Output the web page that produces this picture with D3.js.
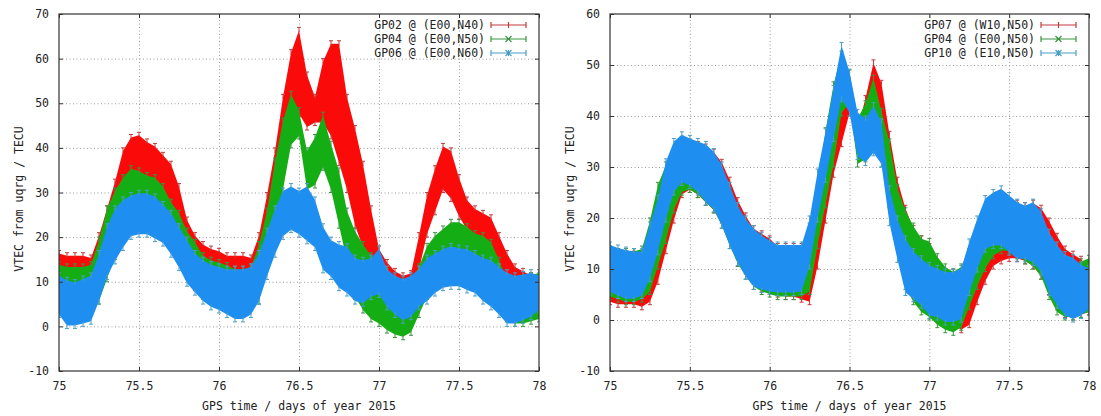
<!DOCTYPE html>
<html>
<head>
<meta charset="utf-8">
<title>VTEC from uqrg</title>
<style>
    body { margin: 0; background: #fff; }
    svg { display: block; }
    text { font-family: "DejaVu Sans Mono", "Liberation Mono", monospace; font-size: 11.5px; fill: #222; }
    .grid line { stroke: #9c9c9c; stroke-width: 1; stroke-dasharray: 1,2.5; }
    .frame { fill: none; stroke: #333; stroke-width: 1.2; }
</style>
</head>
<body>
<svg width="1101" height="416"></svg>
<script src="https://d3js.org/d3.v7.min.js"></script>
<script>
// GPS time, days of year 2015
var days = [
    75.00, 75.05, 75.10, 75.15, 75.20, 75.25, 75.30, 75.35, 75.40, 75.45,
    75.50, 75.55, 75.60, 75.65, 75.70, 75.75, 75.80, 75.85, 75.90, 75.95,
    76.00, 76.05, 76.10, 76.15, 76.20, 76.25, 76.30, 76.35, 76.40, 76.45,
    76.50, 76.55, 76.60, 76.65, 76.70, 76.75, 76.80, 76.85, 76.90, 76.95,
    77.00, 77.05, 77.10, 77.15, 77.20, 77.25, 77.30, 77.35, 77.40, 77.45,
    77.50, 77.55, 77.60, 77.65, 77.70, 77.75, 77.80, 77.85, 77.90, 77.95,
    78.00
];

// upper / lower ends of the error bars, TECU
var gp02Hi = [
    17, 16.5, 16.5, 16.5, 16, 21, 27, 33, 40, 43,
    43.5, 42, 41, 39, 37, 32, 24.5, 21, 19, 18,
    17.5, 16.5, 16.5, 16.5, 16, 21, 30, 40, 52, 62,
    67, 57, 52, 60, 64, 64, 52, 45, 37, 27,
    18, 15, 13, 12, 12.5, 21, 30, 36, 41, 40,
    34, 29, 27, 26, 25, 21, 17, 14, 13, 12,
    11
];
var gp02Lo = [
    7, 7, 7, 7, 7, 10, 16, 21, 26, 29,
    30, 29, 28, 26, 23, 19, 14, 11, 9, 8,
    7.5, 7, 7, 7, 7, 9, 18, 28, 38, 46,
    47, 44, 45, 45, 42, 36, 30, 22, 17, 12,
    9, 7, 5, 4, 5, 12, 20, 25, 30, 28,
    24, 21, 19, 17, 15, 11, 8, 5, 4, 3,
    2
];
var gp04Hi = [
    14.5, 14, 14, 14, 14.5, 20, 27, 31, 34, 36,
    35.5, 34.5, 34, 32, 28.5, 26, 22, 19.5, 16.5, 15.5,
    15, 14.3, 13.5, 13.5, 14, 19, 26.5, 37.7, 46.7, 52.7,
    49, 40, 43, 48, 41.5, 35.5, 26.5, 22, 19, 16.5,
    16, 13, 11, 10, 11, 14, 18.6, 21, 22.5, 24,
    24, 23, 21.5, 21, 19.5, 15.5, 11, 9.6, 11, 12,
    12.7
];
var gp04Lo = [
    4, 3.5, 3, 3, 3.5, 5, 10, 15, 21, 24.5,
    25, 24, 22.5, 21, 18, 14, 10.5, 8, 6, 5,
    4.5, 4, 4, 4, 4, 5, 14, 22, 30, 40,
    42, 30, 31, 35, 30, 22, 14, 6, 3, 1,
    0, -1.5, -2.5, -3, -2, 2, 6, 9.5, 12, 13,
    13, 12, 11, 10, 8, 4, 1, 0, 0, 0.5,
    1
];
var gp06Hi = [
    12, 11, 10.5, 11.3, 12, 17, 23, 27, 29, 30,
    30.5, 30.5, 29.7, 28, 26, 23, 20, 17, 15.5, 14.5,
    14, 13.5, 13.5, 13.5, 14, 17, 22, 27, 31, 32,
    31, 32, 29, 23, 20, 19, 18.5, 16, 15.5, 16,
    18, 13.5, 12, 11.3, 12, 13.5, 16, 17, 18, 18.6,
    18.2, 18, 17, 16, 15.5, 14, 12.7, 12, 12.3, 12.7,
    12
];
var gp06Lo = [
    2, -0.5, -0.5, 0, 0.5, 5, 10.5, 14, 17, 19.5,
    20, 20, 19, 18, 15.5, 12.5, 9, 7, 5, 3.7,
    3, 2, 1, 1, 2, 5, 10.5, 15.5, 19.5, 21,
    20, 18.5, 17, 12, 10.5, 8, 6.8, 5, 4.5, 6,
    6.5, 3.7, 2, 0.7, 1.5, 3.7, 5, 6.8, 8, 8.3,
    8.3, 7.5, 6.8, 5, 3.7, 2, 0, 0, 0.7, 1.5,
    3
];
var gp07Hi = [
    14, 14, 13.5, 13.5, 13.5, 14, 18, 23, 29, 33,
    35, 35, 34.5, 33.5, 31.5, 28, 24, 21, 18.5, 17.5,
    16.5, 15, 15, 15, 15, 14.5, 18, 27, 36, 42,
    44, 38, 44, 51, 47, 37, 28, 22.5, 18.5, 16.5,
    15, 11, 10, 10, 10, 11, 14, 18, 21, 23,
    24, 23.5, 23, 23.5, 22.5, 20, 17, 14.5, 13.5, 12.5,
    11
];
var gp07Lo = [
    3, 2.5, 2.5, 2.5, 2, 3, 7, 13, 19, 24,
    25, 24, 22.5, 21, 19, 16, 12, 9, 7, 5.5,
    5, 4.5, 4, 4, 3.5, 3, 10, 19, 28, 34,
    40, 35, 32, 38, 32, 24, 17, 12, 8, 5,
    2, 0, -1, -1.5, -2.5, -1.5, 3, 7, 10, 11,
    11.5, 11.5, 11, 10, 8, 5, 2, 0.5, 0, 0.5,
    1
];
var gp10Hi = [
    15.3, 14.7, 14.3, 14, 14, 19.2, 24.5, 31.6, 35.6, 36.9,
    36.2, 35.6, 35, 33.6, 31, 27, 23, 20.4, 18.5, 17.2,
    16.2, 15.3, 15.3, 15.3, 15.3, 20.4, 29.6, 37.5, 46, 54.4,
    49.2, 41.3, 40, 42.6, 39.4, 26.3, 20.4, 16.5, 14, 12.6,
    11.3, 10.7, 10, 10, 10.7, 15.9, 20.4, 24.4, 25.6, 26.3,
    25, 23.7, 23, 23.7, 21.8, 17.8, 15.3, 13.4, 12.8, 11.4,
    10.7
];
var gp10Lo = [
    4.9, 4.2, 3.6, 3.6, 4.2, 7.5, 12.8, 19.2, 24.5, 26.4,
    25.8, 24.5, 22.5, 21.2, 18, 14, 10.7, 8, 6, 5.4,
    5, 4.8, 4.8, 4.8, 5, 10, 19.2, 27, 35, 42.8,
    40, 31.5, 30.3, 32.2, 30, 18.5, 11.3, 4.8, 3.6, 2.3,
    0.3, 0, -1, -1, -0.4, 4.8, 9.4, 13.3, 14, 14,
    12.7, 11.4, 11.4, 10.7, 8.8, 4.8, 2.3, 0.3, -0.4, 0.3,
    1.6
];

var xTicks = [75, 75.5, 76, 76.5, 77, 77.5, 78];
var yTicksLeft = [-10, 0, 10, 20, 30, 40, 50, 60, 70];
var yTicksRight = [-10, 0, 10, 20, 30, 40, 50, 60];
var xTitle = "GPS time / days of year 2015";
var yTitle = "VTEC from uqrg / TECU";

var red = { fill: "#fb0a0a", bar: "#c23a3a" };
var green = { fill: "#14ae14", bar: "#3a9440" };
var blue = { fill: "#1e8ef0", bar: "#4a9ec6" };

var panels = [
    { x0: 59, x1: 539, yTicks: yTicksLeft, titleX: 22.5, series: [
        { label: "GP02 @ (E00,N40)", hi: gp02Hi, lo: gp02Lo, col: red, mark: "plus" },
        { label: "GP04 @ (E00,N50)", hi: gp04Hi, lo: gp04Lo, col: green, mark: "cross" },
        { label: "GP06 @ (E00,N60)", hi: gp06Hi, lo: gp06Lo, col: blue, mark: "star" }
    ]},
    { x0: 610, x1: 1089, yTicks: yTicksRight, titleX: 573.5, series: [
        { label: "GP07 @ (W10,N50)", hi: gp07Hi, lo: gp07Lo, col: red, mark: "plus" },
        { label: "GP04 @ (E00,N50)", hi: gp04Hi, lo: gp04Lo, col: green, mark: "cross" },
        { label: "GP10 @ (E10,N50)", hi: gp10Hi, lo: gp10Lo, col: blue, mark: "star" }
    ]}
];

var plotTop = 14, plotBottom = 371;
var svg = d3.select("svg");
var mono = '"DejaVu Sans Mono", "Liberation Mono", monospace';

panels.forEach(function(p, pi) {
    var x = d3.scaleLinear().domain([75, 78]).range([p.x0, p.x1]);
    var y = d3.scaleLinear().domain([p.yTicks[0], p.yTicks[p.yTicks.length - 1]]).range([plotBottom, plotTop]);
    var w = p.x1 - p.x0, h = plotBottom - plotTop;

    // dotted grid
    svg.append("g").attr("class", "grid")
        .attr("transform", "translate(0," + plotBottom + ")")
        .call(d3.axisBottom(x).tickValues(xTicks.slice(1, -1)).tickSize(-h).tickFormat(""))
        .call(function(g) { g.select(".domain").remove(); });
    svg.append("g").attr("class", "grid")
        .attr("transform", "translate(" + p.x0 + ",0)")
        .call(d3.axisLeft(y).tickValues(p.yTicks.slice(1, -1)).tickSize(-w).tickFormat(""))
        .call(function(g) { g.select(".domain").remove(); });

    // data, clipped to the plot box
    var clipId = "clip" + pi;
    svg.append("clipPath").attr("id", clipId)
        .append("rect").attr("x", p.x0).attr("y", plotTop).attr("width", w).attr("height", h);
    var plot = svg.append("g").attr("clip-path", "url(#" + clipId + ")");

    p.series.forEach(function(s) {
        var pts = days.map(function(d, i) { return { t: d, hi: s.hi[i], lo: s.lo[i] }; });
        var g = plot.append("g");

        g.append("path")
            .datum(pts)
            .attr("fill", s.col.fill)
            .attr("d", d3.area()
                .x(function(d) { return x(d.t); })
                .y0(function(d) { return y(d.lo) - 3; })
                .y1(function(d) { return y(d.hi) + 3; }));

        var bars = g.selectAll(".bar").data(pts).enter().append("g")
            .attr("stroke", s.col.bar).attr("stroke-width", 1);
        bars.append("path").attr("fill", "none").attr("d", function(d) {
            var cx = x(d.t), yh = y(d.hi), yl = y(d.lo);
            return "M" + (cx - 2) + "," + yh + "H" + (cx + 2) +
                "M" + cx + "," + yh + "V" + (yh + 5) +
                "M" + (cx - 2) + "," + yl + "H" + (cx + 2) +
                "M" + cx + "," + yl + "V" + (yl - 5);
        });
    });

    // tick marks on all four sides, pointing inward
    var axB = svg.append("g").attr("transform", "translate(0," + plotBottom + ")")
        .call(d3.axisBottom(x).tickValues(xTicks).tickSize(-4).tickPadding(10.5).tickFormat(function(d) { return d; }));
    var axT = svg.append("g").attr("transform", "translate(0," + plotTop + ")")
        .call(d3.axisTop(x).tickValues(xTicks).tickSize(-4).tickFormat(""));
    var axL = svg.append("g").attr("transform", "translate(" + p.x0 + ",0)")
        .call(d3.axisLeft(y).tickValues(p.yTicks).tickSize(-4).tickPadding(10).tickFormat(function(d) { return d; }));
    var axR = svg.append("g").attr("transform", "translate(" + p.x1 + ",0)")
        .call(d3.axisRight(y).tickValues(p.yTicks).tickSize(-4).tickFormat(""));
    [axB, axT, axL, axR].forEach(function(a) {
        a.attr("font-family", mono).attr("font-size", 11.5).attr("color", "#333");
        a.select(".domain").remove();
        a.selectAll("text").attr("fill", "#222");
    });

    svg.append("rect").attr("class", "frame")
        .attr("x", p.x0).attr("y", plotTop).attr("width", w).attr("height", h);

    // axis titles
    svg.append("text").attr("x", (p.x0 + p.x1) / 2).attr("y", 410)
        .attr("text-anchor", "middle").text(xTitle);
    svg.append("text")
        .attr("transform", "translate(" + p.titleX + ",199) rotate(-90)")
        .attr("text-anchor", "middle").text(yTitle);

    // legend
    p.series.forEach(function(s, i) {
        var ly = 25 + i * 14;
        var lx0 = p.x1 - 48, lx1 = p.x1 - 13, mx = (lx0 + lx1) / 2;
        svg.append("text").attr("x", p.x1 - 54).attr("y", ly).attr("dy", "0.35em")
            .attr("text-anchor", "end").text(s.label);
        var m = "M" + lx0 + "," + ly + "H" + lx1 +
            "M" + lx0 + "," + (ly - 3) + "V" + (ly + 3) +
            "M" + lx1 + "," + (ly - 3) + "V" + (ly + 3);
        if (s.mark === "plus") m += "M" + (mx - 3) + "," + ly + "H" + (mx + 3) + "M" + mx + "," + (ly - 3) + "V" + (ly + 3);
        if (s.mark === "cross" || s.mark === "star") m += "M" + (mx - 3) + "," + (ly - 3) + "L" + (mx + 3) + "," + (ly + 3) + "M" + (mx - 3) + "," + (ly + 3) + "L" + (mx + 3) + "," + (ly - 3);
        if (s.mark === "star") m += "M" + (mx - 3) + "," + ly + "H" + (mx + 3) + "M" + mx + "," + (ly - 3) + "V" + (ly + 3);
        svg.append("path").attr("d", m).attr("fill", "none")
            .attr("stroke", s.col.bar).attr("stroke-width", 1.2);
    });
});
</script>
</body>
</html>
